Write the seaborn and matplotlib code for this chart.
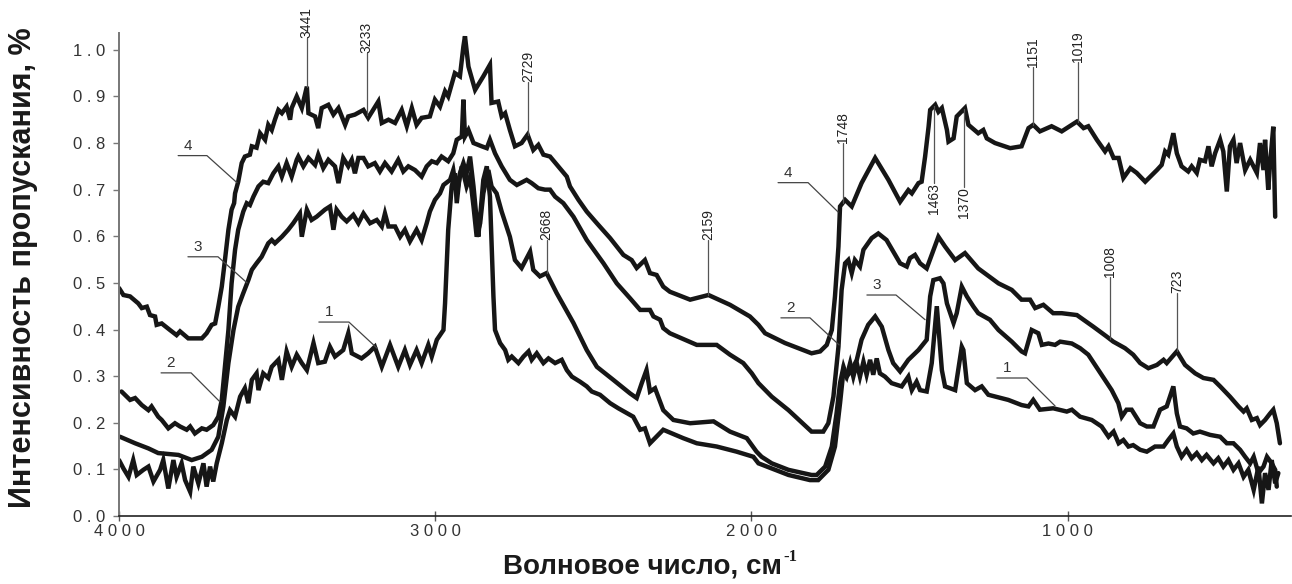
import numpy as np
import pandas as pd
import matplotlib
matplotlib.use('Agg')
import matplotlib.pyplot as plt
import seaborn as sns

# ИК-спектры: волновое число (см-1) и интенсивность пропускания
c4_x = [4000, 3986, 3965, 3939, 3928, 3912, 3902, 3886, 3881, 3865,
        3839, 3818, 3807, 3781, 3738, 3723, 3707, 3696, 3686, 3675,
        3665, 3654, 3644, 3636, 3633, 3623, 3612, 3602, 3586, 3580,
        3565, 3554, 3538, 3528, 3517, 3507, 3496, 3485, 3470, 3459,
        3454, 3438, 3422, 3406, 3401, 3380, 3370, 3359, 3338, 3322,
        3306, 3285, 3275, 3254, 3227, 3212, 3180, 3169, 3148, 3127,
        3106, 3090, 3074, 3059, 3043, 3017, 3001, 2985, 2969, 2959,
        2938, 2922, 2911, 2906, 2895, 2874, 2848, 2827, 2822, 2801,
        2790, 2779, 2764, 2748, 2727, 2708, 2690, 2674, 2658, 2637,
        2584, 2574, 2547, 2521, 2489, 2447, 2405, 2379, 2363, 2337,
        2321, 2300, 2279, 2258, 2194, 2136, 2068, 2005, 1978, 1957,
        1894, 1810, 1783, 1762, 1746, 1736, 1725, 1720, 1704, 1683,
        1652, 1609, 1567, 1530, 1504, 1493, 1472, 1462, 1451, 1440,
        1435, 1419, 1409, 1398, 1382, 1377, 1361, 1351, 1325, 1314,
        1283, 1267, 1256, 1230, 1182, 1146, 1124, 1109, 1088, 1051,
        1019, 971, 950, 935, 908, 882, 871, 855, 839, 824,
        802, 782, 755, 718, 703, 692, 682, 666, 655, 640,
        619, 608, 592, 582, 566, 555, 545, 534, 518, 508,
        497, 487, 476, 466, 455, 439, 423, 402, 392, 381,
        376, 366, 360, 350, 344]
c4_y = [.489, .474, .471, .456, .446, .449, .431, .428, .41, .413,
        .399, .388, .396, .381, .381, .392, .41, .413, .449, .492,
        .549, .614, .657, .671, .692, .717, .757, .771, .775, .793,
        .79, .821, .807, .839, .828, .85, .871, .864, .878, .85,
        .875, .9, .875, .921, .864, .857, .832, .875, .882, .861,
        .875, .839, .857, .861, .871, .854, .889, .843, .85, .843,
        .871, .836, .875, .839, .854, .857, .893, .878, .911, .9,
        .95, .943, 1.007, 1.029, .964, .914, .943, .968, .886, .889,
        .857, .864, .828, .793, .8, .818, .785, .796, .775, .771,
        .728, .707, .678, .653, .628, .596, .56, .549, .532, .549,
        .521, .517, .492, .481, .464, .474, .453, .428, .41, .392,
        .371, .349, .353, .367, .399, .471, .578, .664, .678, .664,
        .714, .768, .721, .674, .699, .692, .714, .717, .771, .835,
        .871, .882, .867, .875, .828, .803, .81, .857, .875, .839,
        .821, .828, .81, .8, .789, .793, .832, .839, .825, .836,
        .825, .846, .832, .836, .807, .782, .793, .768, .768, .725,
        .746, .736, .717, .742, .753, .782, .775, .821, .778, .75,
        .739, .75, .736, .764, .761, .793, .75, .778, .807, .782,
        .696, .793, .807, .757, .8, .742, .764, .736, .8, .742,
        .807, .7, .757, .835, .642]

c2_x = [3992, 3965, 3949, 3928, 3907, 3897, 3876, 3865, 3844, 3823,
        3807, 3786, 3775, 3760, 3738, 3723, 3702, 3686, 3675, 3665,
        3654, 3644, 3633, 3623, 3607, 3596, 3586, 3575, 3559, 3544,
        3528, 3512, 3496, 3485, 3470, 3454, 3438, 3433, 3417, 3401,
        3380, 3370, 3354, 3338, 3317, 3306, 3291, 3275, 3264, 3254,
        3243, 3227, 3212, 3191, 3175, 3159, 3138, 3117, 3101, 3085,
        3064, 3043, 3027, 3011, 2995, 2980, 2959, 2943, 2932, 2916,
        2911, 2906, 2895, 2879, 2853, 2837, 2827, 2811, 2790, 2764,
        2742, 2711, 2695, 2674, 2653, 2637, 2621, 2595, 2563, 2521,
        2468, 2426, 2384, 2352, 2321, 2310, 2289, 2279, 2258, 2173,
        2110, 2068, 2026, 1999, 1978, 1936, 1883, 1810, 1773, 1757,
        1741, 1725, 1715, 1704, 1694, 1683, 1673, 1657, 1646, 1620,
        1599, 1573, 1530, 1509, 1499, 1483, 1467, 1446, 1409, 1388,
        1356, 1325, 1283, 1219, 1177, 1146, 1119, 1103, 1077, 1046,
        1019, 971, 919, 877, 856, 819, 793, 771, 745, 718,
        697, 687, 655, 629, 597, 571, 539, 518, 487, 460,
        444, 434, 418, 402, 392, 376, 360, 350, 339, 329]
c2_y = [.267, .249, .253, .238, .227, .235, .213, .206, .188, .199,
        .192, .185, .192, .177, .188, .185, .195, .213, .249, .32,
        .399, .499, .571, .614, .653, .671, .667, .685, .707, .717,
        .714, .735, .75, .728, .757, .728, .764, .771, .75, .768,
        .753, .775, .746, .764, .75, .714, .768, .75, .764, .735,
        .768, .768, .75, .757, .739, .757, .739, .764, .739, .75,
        .742, .728, .75, .761, .757, .771, .761, .778, .807, .814,
        .893, .814, .828, .8, .793, .789, .807, .778, .75, .721,
        .71, .721, .714, .703, .7, .7, .685, .671, .642, .592,
        .542, .499, .467, .442, .442, .428, .421, .403, .392, .367,
        .367, .346, .328, .306, .285, .256, .227, .181, .181, .199,
        .256, .363, .485, .542, .549, .521, .549, .535, .571, .596,
        .606, .592, .542, .535, .553, .56, .542, .531, .599, .578,
        .549, .564, .531, .499, .485, .464, .464, .446, .453, .435,
        .435, .431, .406, .385, .374, .36, .346, .328, .317, .324,
        .335, .328, .353, .324, .306, .296, .292, .278, .256, .235,
        .224, .231, .206, .21, .195, .206, .22, .228, .199, .156]

c3_x = [3997, 3949, 3907, 3876, 3812, 3770, 3738, 3707, 3686, 3670,
        3654, 3638, 3623, 3607, 3591, 3580, 3565, 3549, 3528, 3517,
        3507, 3485, 3465, 3449, 3428, 3422, 3406, 3391, 3375, 3349,
        3333, 3322, 3312, 3296, 3280, 3259, 3243, 3227, 3206, 3185,
        3169, 3159, 3148, 3127, 3111, 3096, 3080, 3059, 3043, 3027,
        3017, 3001, 2985, 2974, 2953, 2943, 2932, 2916, 2901, 2890,
        2879, 2869, 2858, 2848, 2832, 2822, 2806, 2790, 2764, 2748,
        2727, 2700, 2690, 2669, 2648, 2616, 2563, 2521, 2489, 2437,
        2384, 2363, 2347, 2332, 2321, 2305, 2279, 2247, 2194, 2120,
        2068, 2015, 1984, 1968, 1936, 1883, 1810, 1794, 1767, 1746,
        1731, 1720, 1709, 1699, 1683, 1667, 1652, 1631, 1609, 1588,
        1567, 1552, 1530, 1504, 1472, 1446, 1435, 1425, 1404, 1393,
        1382, 1361, 1351, 1335, 1319, 1298, 1283, 1246, 1219, 1177,
        1146, 1135, 1114, 1093, 1082, 1061, 1040, 1024, 987, 961,
        935, 903, 861, 840, 829, 814, 798, 771, 750, 729,
        708, 687, 666, 655, 645, 624, 603, 582, 550, 518,
        497, 476, 455, 439, 423, 412, 397, 381, 370, 355,
        344, 339]
c3_y = [.17, .156, .145, .135, .131, .12, .127, .142, .17, .235,
        .328, .399, .449, .478, .506, .528, .542, .556, .585, .592,
        .585, .599, .614, .628, .649, .599, .657, .635, .642, .657,
        .664, .614, .657, .642, .632, .646, .628, .649, .628, .635,
        .621, .649, .621, .621, .599, .614, .589, .614, .592, .628,
        .653, .678, .692, .71, .721, .742, .692, .75, .707, .728,
        .664, .599, .628, .692, .742, .707, .692, .653, .599, .549,
        .532, .567, .528, .514, .521, .478, .414, .356, .32, .292,
        .263, .253, .285, .313, .267, .274, .227, .206, .199, .203,
        .181, .167, .138, .127, .113, .099, .088, .088, .106, .149,
        .22, .285, .32, .299, .313, .335, .378, .41, .428, .406,
        .356, .328, .31, .335, .356, .378, .471, .506, .51, .499,
        .456, .414, .435, .492, .471, .449, .435, .421, .399, .374,
        .353, .349, .399, .392, .367, .37, .367, .374, .37, .36,
        .346, .313, .27, .242, .213, .228, .228, .199, .192, .192,
        .228, .235, .278, .22, .192, .188, .177, .181, .174, .17,
        .156, .156, .142, .127, .113, .127, .092, .106, .127, .113,
        .099, .063]

c1_x = [4000, 3986, 3970, 3955, 3944, 3923, 3907, 3891, 3870, 3860,
        3844, 3828, 3818, 3802, 3791, 3775, 3765, 3749, 3733, 3723,
        3712, 3702, 3691, 3675, 3659, 3649, 3633, 3617, 3602, 3591,
        3580, 3565, 3559, 3544, 3528, 3517, 3496, 3485, 3470, 3454,
        3438, 3422, 3406, 3385, 3370, 3349, 3333, 3317, 3291, 3275,
        3264, 3233, 3212, 3191, 3169, 3143, 3117, 3096, 3080, 3059,
        3043, 3022, 3011, 2995, 2974, 2969, 2959, 2948, 2938, 2932,
        2922, 2911, 2901, 2890, 2879, 2864, 2858, 2848, 2837, 2827,
        2816, 2811, 2795, 2779, 2769, 2758, 2737, 2721, 2705, 2695,
        2679, 2658, 2642, 2621, 2600, 2584, 2568, 2542, 2521, 2505,
        2479, 2447, 2421, 2374, 2352, 2337, 2321, 2279, 2216, 2173,
        2110, 2047, 1994, 1978, 1936, 1883, 1815, 1789, 1757, 1736,
        1720, 1709, 1699, 1688, 1678, 1667, 1657, 1646, 1636, 1625,
        1615, 1604, 1594, 1578, 1557, 1525, 1504, 1493, 1478, 1467,
        1446, 1430, 1414, 1398, 1388, 1356, 1335, 1330, 1319, 1293,
        1272, 1251, 1188, 1146, 1124, 1109, 1088, 1046, 1003, 987,
        961, 924, 893, 871, 855, 839, 824, 808, 793, 771,
        750, 724, 697, 682, 666, 655, 640, 624, 608, 592,
        576, 561, 539, 524, 508, 492, 476, 460, 444, 429,
        412, 397, 386, 376, 365, 355, 344, 334]
c1_y = [.12, .102, .084, .12, .088, .099, .106, .074, .099, .12,
        .059, .12, .084, .113, .077, .052, .106, .07, .113, .063,
        .106, .074, .113, .156, .206, .227, .213, .256, .274, .242,
        .292, .306, .27, .306, .296, .32, .335, .292, .353, .32,
        .346, .328, .313, .371, .328, .331, .363, .342, .356, .392,
        .349, .338, .349, .363, .32, .367, .32, .356, .324, .356,
        .328, .367, .342, .378, .399, .456, .614, .707, .735, .671,
        .735, .757, .735, .771, .707, .599, .642, .721, .75, .685,
        .471, .399, .371, .356, .335, .342, .328, .342, .353, .335,
        .349, .328, .338, .328, .335, .313, .299, .288, .278, .267,
        .26, .242, .231, .213, .185, .188, .156, .185, .167, .156,
        .149, .138, .127, .113, .102, .088, .077, .077, .099, .149,
        .242, .313, .299, .328, .299, .328, .299, .331, .303, .335,
        .303, .338, .306, .299, .285, .278, .299, .27, .288, .27,
        .267, .328, .45, .313, .278, .27, .363, .356, .285, .27,
        .278, .26, .249, .238, .235, .249, .228, .231, .224, .228,
        .213, .206, .192, .17, .181, .156, .163, .149, .152, .142,
        .138, .149, .149, .163, .177, .149, .127, .142, .124, .135,
        .12, .131, .113, .124, .106, .12, .099, .113, .084, .099,
        .056, .106, .027, .092, .056, .12, .07, .092]

# подписи полос поглощения
peak_labels = ['3441', '3233', '2729', '2668', '2159', '1748',
               '1463', '1370', '1151', '1019', '1008', '723']
peak_x = [3406, 3217, 2707, 2648, 2136, 1711, 1422, 1328, 1110, 969, 866, 655]
peak_curve = [4, 4, 4, 3, 4, 4, 4, 4, 4, 4, 2, 2]
peak_text_y = [1.026, 0.994, 0.931, 0.592, 0.592, 0.80,
               0.715, 0.706, 0.963, 0.974, 0.513, 0.479]
peak_below = [False, False, False, False, False, False,
              True, True, False, False, False, False]

# номера кривых с выносками
lead_labels = ['4', '3', '2', '1', '4', '2', '3', '1']
lead_x0 = [3813, 3782, 3867, 3368, 1916, 1907, 1635, 1224]
lead_x1 = [3722, 3687, 3772, 3273, 1821, 1815, 1543, 1129]
lead_y0 = [0.773, 0.556, 0.307, 0.416, 0.715, 0.425, 0.474, 0.296]
lead_x2 = [3627, 3595, 3681, 3184, 1726, 1723, 1451, 1040]
lead_y2 = [0.715, 0.50, 0.245, 0.36, 0.652, 0.367, 0.421, 0.236]

x_ticks = [4000, 3000, 2000, 1000]
y_ticks = [0.0, 0.1, 0.2, 0.3, 0.4, 0.5, 0.6, 0.7, 0.8, 0.9, 1.0]

sns.set_style('ticks')
plt.rcParams['font.family'] = ['Liberation Sans', 'DejaVu Sans']

fig = plt.figure(figsize=(12.92, 5.84), dpi=100)
ax = fig.add_axes([119 / 1292, 68 / 584, 1172 / 1292, 483 / 584])

curves = {1: (c1_x, c1_y), 2: (c2_x, c2_y), 3: (c3_x, c3_y), 4: (c4_x, c4_y)}
for num, (xs, ys) in curves.items():
    df = pd.DataFrame({'wn': xs, 'val': ys})
    sns.lineplot(data=df, x='wn', y='val', ax=ax, sort=False, estimator=None,
                 color='#161616', linewidth=3.2)
for line in ax.lines:
    line.set_solid_joinstyle('miter')

ax.set_xlim(4000, 294)
ax.set_ylim(0, 1.036)

# выноски пиков
narrow = ['Liberation Sans Narrow', 'Liberation Sans', 'DejaVu Sans']
for lab, px, cn, ty, below in zip(peak_labels, peak_x, peak_curve, peak_text_y, peak_below):
    xs, ys = curves[cn]
    cy = np.interp(px, xs[::-1], ys[::-1])
    ax.plot([px, px], [cy, ty], color='#555555', lw=0.9, clip_on=False)
    ax.text(px, ty, lab, rotation=90, ha='center', va='top' if below else 'bottom',
            fontsize=10, family=narrow, color='#222222', clip_on=False)

for lab, x0, x1, y0, x2, y2 in zip(lead_labels, lead_x0, lead_x1, lead_y0, lead_x2, lead_y2):
    ax.plot([x0, x1, x2], [y0, y0, y2], color='#444444', lw=0.9)
    ax.text(x0 + (x1 - x0) * 0.33, y0 + 0.006, lab, ha='center', va='bottom',
            fontsize=11, color='#333333')

ax.set_xticks(x_ticks)
ax.set_xticklabels([' '.join(str(t)) for t in x_ticks])
ax.set_yticks(y_ticks)
ax.set_yticklabels([' '.join(f'{t:.1f}') for t in y_ticks])
ax.tick_params(axis='y', direction='out', length=4, width=1, color='#777777',
               labelsize=12, labelcolor='#333333', pad=6)
ax.tick_params(axis='x', direction='inout', length=7, width=1, color='#555555',
               labelsize=12, labelcolor='#333333', pad=2)
ax.set_xlabel('')
ax.set_ylabel('')

sns.despine(ax=ax)
ax.spines['left'].set_color('#777777')
ax.spines['left'].set_linewidth(1.4)
ax.spines['bottom'].set_color('#222222')
ax.spines['bottom'].set_linewidth(1.2)

fig.text(23 / 1292, 1 - 268 / 584, 'Интенсивность пропускания, %', rotation=90,
         ha='center', va='center', fontsize=22, fontweight='bold', color='#1a1a1a')
fig.text(782 / 1292, 1 - 567 / 584, 'Волновое число, см', ha='right', va='center',
         fontsize=20, fontweight='bold', color='#1a1a1a')
fig.text(783 / 1292, 1 - 557 / 584, '-1', ha='left', va='center',
         fontsize=12, fontweight='bold', color='#1a1a1a',
         family=['Liberation Serif', 'DejaVu Serif'])

fig.savefig('out.png', dpi=100)
